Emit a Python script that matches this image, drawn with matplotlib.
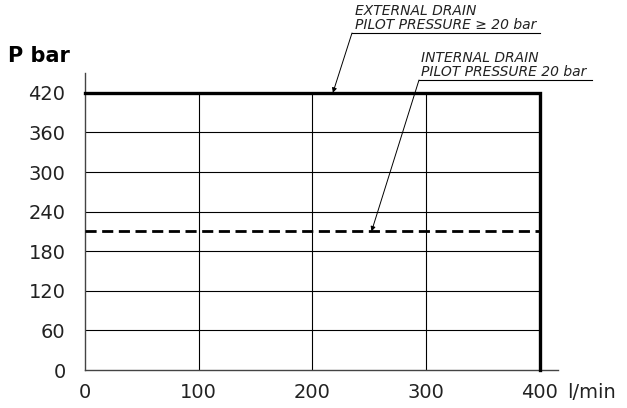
import matplotlib
matplotlib.use('Agg')
import matplotlib.pyplot as plt

# chart values
x_ticks = [0, 100, 200, 300, 400]
y_ticks = [0, 60, 120, 180, 240, 300, 360, 420]
ext_flow = [0, 400, 400]
ext_press = [420, 420, 0]
int_flow = [0, 400]
int_press = [210, 210]
ext_label = 'EXTERNAL DRAIN\nPILOT PRESSURE \u2265 20 bar'
int_label = 'INTERNAL DRAIN\nPILOT PRESSURE 20 bar'

W, H = 627, 408
fig = plt.figure(figsize=(W / 100, H / 100), dpi=100)
ax = fig.add_axes([85 / W, 38 / H, (558 - 85) / W, (370 - 73) / H])
ax.set_xlim(0, 416)
ax.set_ylim(0, 450)

# grid inside the box only
for xv in x_ticks[1:-1]:
    ax.plot([xv, xv], [0, 420], color='black', lw=0.8, zorder=1)
for yv in y_ticks[1:]:
    ax.plot([0, 400], [yv, yv], color='black', lw=0.8, zorder=1)

ax.plot(ext_flow, ext_press, color='black', lw=2.4, zorder=3, clip_on=False,
        solid_joinstyle='miter')
ax.plot(int_flow, int_press, color='black', lw=2.0, ls=(0, (4, 2)), zorder=3)

for s in ['top', 'right']:
    ax.spines[s].set_visible(False)
for s in ['left', 'bottom']:
    ax.spines[s].set_color('#444444')
    ax.spines[s].set_linewidth(1.0)

ax.set_xticks(x_ticks)
ax.set_yticks(y_ticks)
ax.tick_params(length=0, labelsize=14, labelcolor='#222222')
ax.tick_params(axis='y', pad=14)
ax.tick_params(axis='x', pad=9)

def fpx(x, y):
    return (x / W, 1 - y / H)

fig.text(*fpx(8, 62), 'P bar', fontsize=15, fontweight='bold', ha='left', va='baseline')
fig.text(*fpx(567, 398), 'l/min', fontsize=14, ha='left', va='baseline', color='#222222')

# annotations with underline and leader
fig.text(*fpx(355, 29), ext_label, fontsize=10, style='italic', ha='left',
         va='baseline', linespacing=1.0, color='#222222')
fig.add_artist(plt.Line2D([352 / W, 540 / W], [1 - 33 / H, 1 - 33 / H],
                          color='black', lw=0.8))
ax.annotate('', xy=(218, 420), xycoords='data', xytext=fpx(352, 33),
            textcoords='figure fraction',
            arrowprops=dict(arrowstyle='-|>', color='black', lw=0.7,
                            mutation_scale=7, shrinkA=0, shrinkB=0))

fig.text(*fpx(421, 76), int_label, fontsize=10, style='italic', ha='left',
         va='baseline', linespacing=1.0, color='#222222')
fig.add_artist(plt.Line2D([419 / W, 592 / W], [1 - 80 / H, 1 - 80 / H],
                          color='black', lw=0.8))
ax.annotate('', xy=(252, 210), xycoords='data', xytext=fpx(419, 80),
            textcoords='figure fraction',
            arrowprops=dict(arrowstyle='-|>', color='black', lw=0.7,
                            mutation_scale=7, shrinkA=0, shrinkB=0))

fig.savefig('out.png', dpi=100)
